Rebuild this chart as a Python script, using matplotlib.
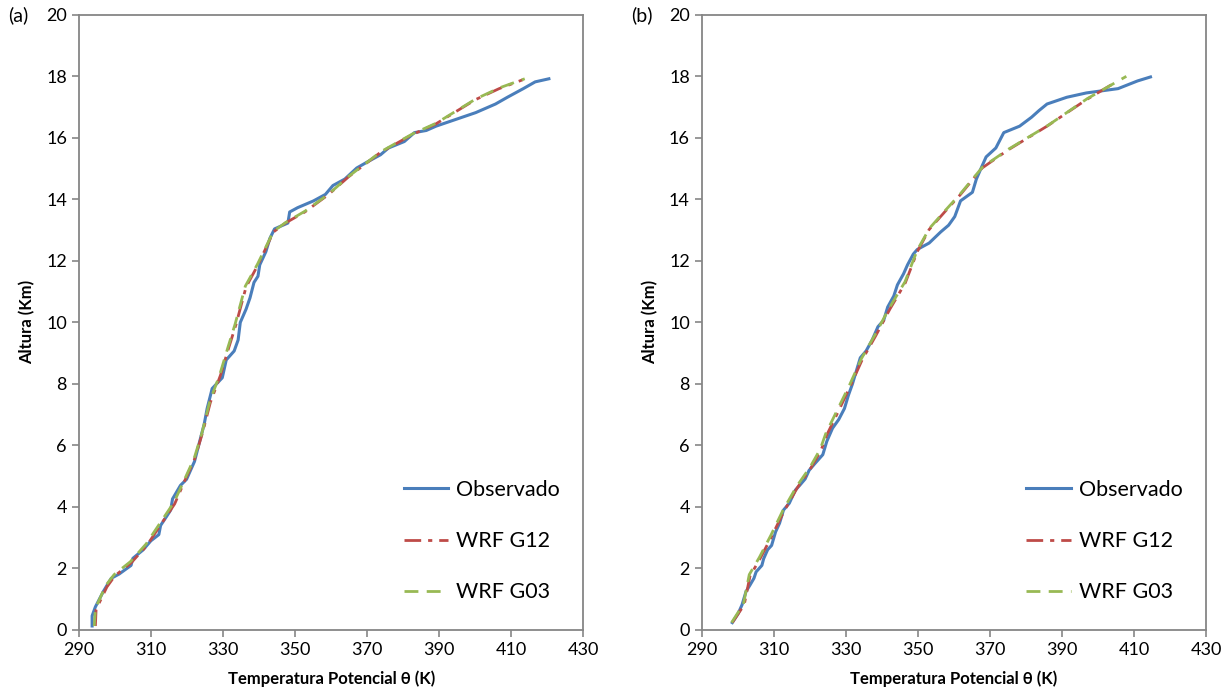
import matplotlib
matplotlib.use("Agg")
import matplotlib.pyplot as plt  # noqa: E402

plt.rcParams["font.family"] = ["Lato", "DejaVu Sans"]

# panel (a)
obs_a_t = [293.7, 293.7, 294.6, 296.8, 299.0, 301.2, 304.5, 305.0, 307.8, 310.0, 312.2, 312.7,
           314.4, 315.5, 316.0, 318.2, 319.9, 322.1, 323.2, 324.8, 325.6, 327.0, 329.8, 330.9,
           333.1, 334.2, 334.8, 336.4, 337.5, 338.6, 339.7, 340.2, 341.9, 343.0, 344.3, 348.0,
           348.5, 350.7, 355.1, 358.4, 360.5, 363.8, 367.1, 370.4, 373.7, 375.9, 380.3, 383.1,
           386.4, 389.1, 394.6, 400.1, 405.6, 408.9, 413.3, 416.6, 420.4]
obs_a_z = [0.13, 0.46, 0.75, 1.25, 1.68, 1.82, 2.10, 2.33, 2.60, 2.90, 3.10, 3.40,
           3.70, 3.90, 4.26, 4.70, 4.90, 5.48, 5.98, 6.70, 7.20, 7.85, 8.20, 8.78,
           9.07, 9.43, 10.00, 10.43, 10.80, 11.30, 11.50, 11.87, 12.30, 12.73, 13.04, 13.23,
           13.59, 13.73, 13.95, 14.16, 14.45, 14.66, 15.02, 15.24, 15.45, 15.67, 15.88, 16.17,
           16.24, 16.38, 16.60, 16.82, 17.10, 17.32, 17.60, 17.82, 17.92]
g12_a_t = [294.6, 294.8, 297.8, 300.0, 304.5, 308.9, 312.2, 316.6, 319.3, 322.1, 324.3, 326.5,
           329.3, 331.5, 333.6, 336.4, 339.7, 344.0, 347.3, 352.7, 359.3, 364.8, 373.6, 382.4,
           389.0, 400.0, 406.6, 413.2]
g12_a_z = [0.13, 0.67, 1.40, 1.76, 2.18, 2.75, 3.33, 4.10, 4.83, 5.55, 6.40, 7.40,
           8.28, 9.14, 9.93, 11.15, 11.87, 12.94, 13.23, 13.59, 14.16, 14.73, 15.52, 16.10,
           16.45, 17.24, 17.60, 17.89]
g03_a_t = [294.3, 294.6, 297.5, 299.8, 304.3, 308.7, 312.0, 316.4, 319.2, 322.0, 324.2, 326.3,
           329.1, 331.3, 333.4, 336.2, 339.6, 344.0, 347.4, 352.8, 359.4, 365.0, 373.8, 382.6,
           389.2, 400.2, 406.8, 413.7]
g03_a_z = [0.13, 0.70, 1.45, 1.80, 2.22, 2.80, 3.38, 4.15, 4.86, 5.58, 6.42, 7.42,
           8.30, 9.16, 9.96, 11.18, 11.90, 12.96, 13.25, 13.62, 14.18, 14.76, 15.55, 16.13,
           16.48, 17.27, 17.63, 17.92]

# panel (b)
obs_b_t = [298.5, 300.1, 301.2, 302.3, 303.4, 304.5, 305.1, 306.7, 307.2, 308.3, 309.4, 310.5,
           311.6, 312.7, 314.3, 316.0, 317.1, 318.7, 319.8, 321.4, 323.6, 324.7, 326.3, 328.0,
           329.6, 330.7, 331.8, 332.9, 334.0, 335.6, 337.3, 338.9, 340.5, 341.6, 343.3, 344.3,
           346.0, 347.1, 348.7, 349.8, 353.1, 356.3, 358.5, 360.2, 361.8, 365.1, 366.2, 367.8,
           368.9, 371.6, 373.8, 378.2, 381.5, 383.6, 385.8, 391.3, 396.7, 401.1, 405.5, 410.9,
           414.5]
obs_b_z = [0.24, 0.53, 0.82, 1.25, 1.46, 1.68, 1.89, 2.10, 2.32, 2.61, 2.75, 3.19,
           3.47, 3.90, 4.12, 4.55, 4.69, 4.91, 5.19, 5.41, 5.70, 6.13, 6.56, 6.84,
           7.20, 7.63, 7.99, 8.42, 8.85, 9.07, 9.43, 9.86, 10.07, 10.50, 10.86, 11.22,
           11.58, 11.87, 12.22, 12.37, 12.58, 12.94, 13.16, 13.44, 13.95, 14.23, 14.66, 15.09,
           15.38, 15.67, 16.17, 16.38, 16.67, 16.89, 17.10, 17.32, 17.46, 17.53, 17.60, 17.85,
           17.98]
g12_b_t = [298.5, 301.8, 303.4, 306.2, 309.4, 312.7, 316.5, 320.3, 323.1, 324.7, 328.0, 331.2,
           334.5, 338.3, 342.2, 346.5, 349.8, 353.1, 357.4, 361.8, 367.8, 374.9, 385.8, 396.7,
           404.0]
g12_b_z = [0.24, 0.82, 1.75, 2.32, 3.04, 3.83, 4.62, 5.27, 5.84, 6.34, 7.13, 7.92,
           8.78, 9.57, 10.43, 11.29, 12.30, 13.02, 13.59, 14.16, 15.02, 15.60, 16.38, 17.24,
           17.75]
g03_b_t = [298.3, 301.6, 303.2, 306.0, 309.2, 312.5, 316.3, 320.1, 322.9, 324.4, 327.7, 331.0,
           334.3, 338.1, 342.0, 346.4, 349.8, 353.2, 357.5, 361.9, 367.9, 375.1, 386.0, 396.9,
           407.8]
g03_b_z = [0.24, 0.85, 1.80, 2.36, 3.08, 3.88, 4.66, 5.30, 5.88, 6.38, 7.17, 7.96,
           8.82, 9.60, 10.46, 11.32, 12.35, 13.06, 13.63, 14.20, 15.05, 15.63, 16.40, 17.27,
           18.0]

BLUE = "#4A7EBB"
RED = "#BE4B48"
GREEN = "#98B954"
GRAY = "#868686"


def draw_panel(ax, obs, g12, g03, tag):
    ax.plot(obs[0], obs[1], color=BLUE, lw=2.2, label="Observado")
    ax.plot(g12[0], g12[1], color=RED, lw=2.0, dashes=(6, 2.5, 1.5, 2.5), label="WRF G12")
    ax.plot(g03[0], g03[1], color=GREEN, lw=2.0, dashes=(5, 3), label="WRF G03")
    ax.set_xlim(290, 430)
    ax.set_ylim(0, 20)
    ax.set_xticks(range(290, 431, 20))
    ax.set_yticks(range(0, 21, 2))
    for s in ax.spines.values():
        s.set_color(GRAY)
        s.set_linewidth(1.3)
    ax.tick_params(colors=GRAY, labelcolor="black", labelsize=13, length=5, width=1.2)
    ax.set_xlabel("Temperatura Potencial θ (K)", fontsize=12, fontweight="bold", labelpad=9)
    ax.set_ylabel("Altura (Km)", fontsize=12, fontweight="bold", labelpad=8)
    ax.legend(loc="lower left", bbox_to_anchor=(0.605, 0.0135), frameon=False, fontsize=15.5,
              handlelength=2.05, labelspacing=1.45, handletextpad=0.4)
    ax.text(-0.14, 1.0, tag, transform=ax.transAxes, fontsize=14, va="center", ha="left")


fig = plt.figure(figsize=(12.31, 6.92), dpi=100)
ax1 = fig.add_axes([0.064, 0.0896, 0.410, 0.889])
ax2 = fig.add_axes([0.570, 0.0896, 0.410, 0.889])
draw_panel(ax1, (obs_a_t, obs_a_z), (g12_a_t, g12_a_z), (g03_a_t, g03_a_z), "(a)")
draw_panel(ax2, (obs_b_t, obs_b_z), (g12_b_t, g12_b_z), (g03_b_t, g03_b_z), "(b)")
fig.savefig("out.png", dpi=100)
